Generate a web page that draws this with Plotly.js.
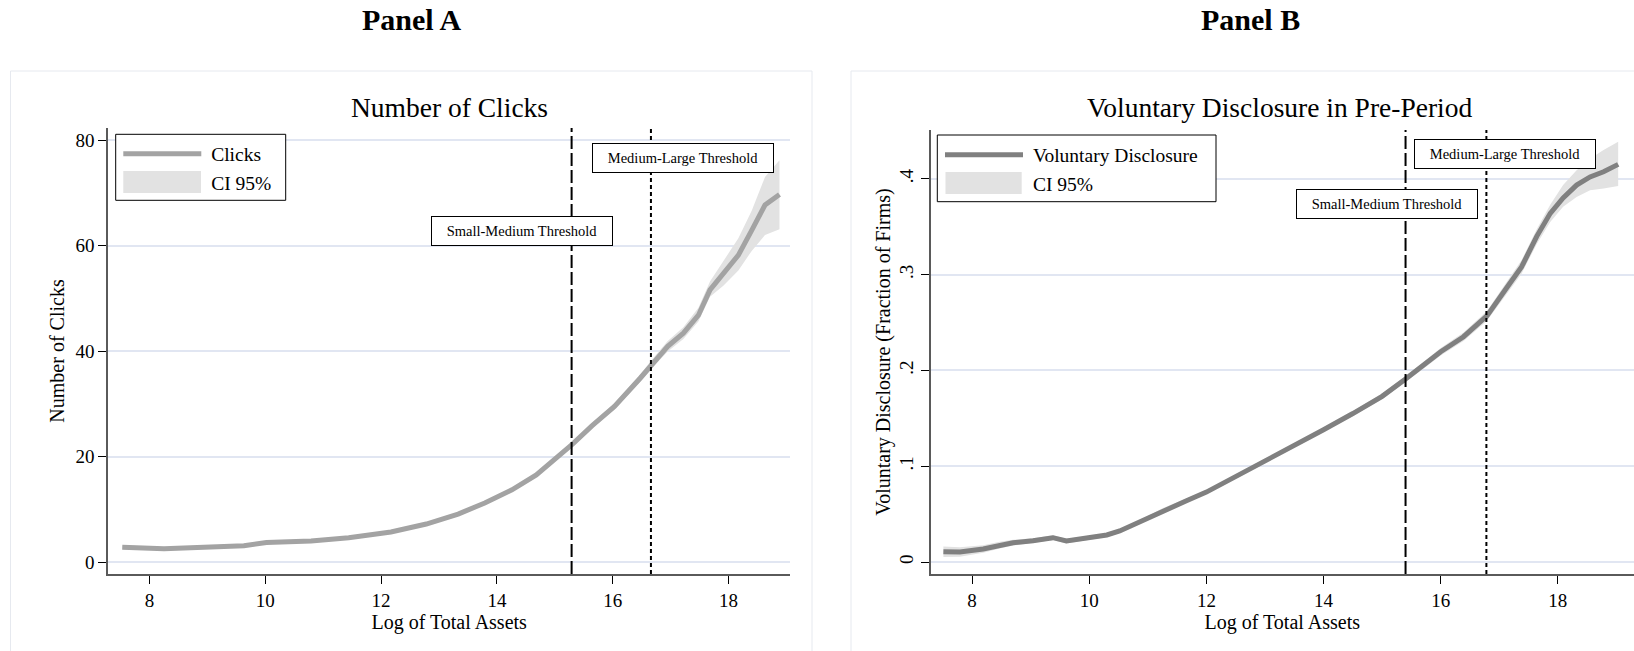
<!DOCTYPE html>
<html>
<head>
<meta charset="utf-8">
<script src="https://cdn.plot.ly/plotly-3.0.1.min.js"></script>
<style>html,body{margin:0;padding:0;background:#fff;}#chart{width:1634px;height:651px;}</style>
</head>
<body>
<div id="chart"></div>
<script>
// ---------- Data ----------
// Panel A: Number of Clicks vs Log of Total Assets
const assetsA = [7.53, 8.25, 8.94, 9.63, 10.02, 10.79, 11.44, 12.17, 12.78, 13.33, 13.79, 14.26, 14.68, 15.03, 15.31, 15.64, 16.03, 16.47, 16.68, 16.95, 17.22, 17.48, 17.68, 17.91, 18.17, 18.40, 18.63, 18.88];
const clicks  = [2.8, 2.5, 2.8, 3.1, 3.7, 4.0, 4.6, 5.7, 7.2, 9.1, 11.2, 13.7, 16.5, 19.7, 22.4, 25.8, 29.5, 34.8, 37.6, 40.9, 43.4, 46.8, 51.6, 54.7, 58.2, 62.9, 67.7, 69.7];
const clicksUpper = [3.2, 2.8, 3.1, 3.4, 4.0, 4.3, 4.9, 6.0, 7.5, 9.4, 11.5, 14.0, 16.8, 20.0, 22.8, 26.3, 30.1, 35.5, 38.4, 41.9, 44.5, 48.2, 53.2, 57.0, 61.4, 66.6, 73.0, 76.2];
const clicksLower = [2.4, 2.2, 2.5, 2.8, 3.4, 3.7, 4.3, 5.4, 6.9, 8.8, 10.9, 13.4, 16.2, 19.4, 22.0, 25.3, 28.9, 34.1, 36.8, 39.9, 42.3, 45.6, 50.3, 52.4, 55.3, 59.0, 62.0, 63.1];

// Panel B: Voluntary Disclosure (fraction of firms) vs Log of Total Assets
const assetsB = [7.51, 7.79, 8.19, 8.47, 8.70, 9.04, 9.38, 9.61, 9.96, 10.30, 10.52, 10.87, 11.26, 11.66, 12.0, 12.5, 13.0, 13.5, 14.0, 14.5, 15.0, 15.4, 15.7, 16.0, 16.39, 16.79, 17.10, 17.38, 17.64, 17.87, 18.09, 18.32, 18.55, 18.78, 19.03];
const disclosure = [0.0108, 0.0104, 0.0136, 0.0177, 0.0202, 0.0222, 0.0254, 0.0219, 0.0247, 0.0282, 0.0324, 0.0421, 0.0543, 0.064, 0.073, 0.089, 0.106, 0.122, 0.138, 0.155, 0.173, 0.191, 0.205, 0.2195, 0.2352, 0.257, 0.284, 0.308, 0.34, 0.364, 0.38, 0.3935, 0.402, 0.4074, 0.4151];
const disclosureUpper = [0.0163, 0.0154, 0.0176, 0.0212, 0.0232, 0.0247, 0.0279, 0.0244, 0.0267, 0.0302, 0.0344, 0.0441, 0.0563, 0.066, 0.075, 0.091, 0.108, 0.124, 0.140, 0.1575, 0.176, 0.194, 0.2085, 0.2235, 0.2397, 0.262, 0.290, 0.315, 0.3475, 0.373, 0.3935, 0.409, 0.421, 0.430, 0.4387];
const disclosureLower = [0.0053, 0.0054, 0.0096, 0.0142, 0.0172, 0.0197, 0.0229, 0.0194, 0.0227, 0.0262, 0.0304, 0.0401, 0.0523, 0.062, 0.071, 0.087, 0.104, 0.120, 0.136, 0.1525, 0.170, 0.188, 0.2015, 0.2155, 0.2307, 0.252, 0.278, 0.301, 0.332, 0.355, 0.371, 0.381, 0.388, 0.390, 0.3925];

// Thresholds (log of total assets), as drawn in each panel
const thresholdNames = ['Small-Medium Threshold', 'Medium-Large Threshold'];
const thresholdsA = [15.29, 16.66];
const thresholdsB = [15.4, 16.78];

// Tick labels
const xTicks = [8, 10, 12, 14, 16, 18];
const yTicksA = [0, 20, 40, 60, 80];
const yTicksB = [0, 0.1, 0.2, 0.3, 0.4];
const yTickTextB = ['0', '.1', '.2', '.3', '.4'];

// ---------- Styling ----------
const W = 1634, H = 651;
const FONT = 'Liberation Serif, Times New Roman, DejaVu Serif, serif';
const GRID = '#e1e6f2';
const AXIS = '#5a5a5a';
const CI_FILL = '#e2e2e2';
const NB = '\u00a0';
const px = v => v / W;          // horizontal pixel -> paper
const py = v => (H - v) / H;    // vertical pixel (from top) -> paper

function band(x, lo, hi) {
  return { x: x.concat(x.slice().reverse()), y: hi.concat(lo.slice().reverse()) };
}
const bandA = band(assetsA, clicksLower, clicksUpper);
const bandB = band(assetsB, disclosureLower, disclosureUpper);

const data = [
  // confidence bands (drawn first, below the lines)
  { x: bandA.x, y: bandA.y, type: 'scatter', mode: 'lines', fill: 'toself', fillcolor: CI_FILL,
    line: { width: 0, color: CI_FILL }, showlegend: false, xaxis: 'x', yaxis: 'y', hoverinfo: 'skip' },
  { x: bandB.x, y: bandB.y, type: 'scatter', mode: 'lines', fill: 'toself', fillcolor: CI_FILL,
    line: { width: 0, color: CI_FILL }, showlegend: false, xaxis: 'x2', yaxis: 'y2', hoverinfo: 'skip' },
  // fitted lines
  { x: assetsA, y: clicks, type: 'scatter', mode: 'lines', line: { color: '#a3a3a3', width: 5 },
    name: NB + 'Clicks', xaxis: 'x', yaxis: 'y', legend: 'legend', legendrank: 1 },
  { x: assetsB, y: disclosure, type: 'scatter', mode: 'lines', line: { color: '#808080', width: 5 },
    name: NB + 'Voluntary Disclosure', xaxis: 'x2', yaxis: 'y2', legend: 'legend2', legendrank: 1 },
  // legend entries for the confidence bands (key patch drawn as a shape)
  { x: [null], y: [null], type: 'scatter', mode: 'lines', line: { color: 'rgba(0,0,0,0)', width: 1 },
    name: NB + 'CI 95%', xaxis: 'x', yaxis: 'y', legend: 'legend', legendrank: 2, hoverinfo: 'skip' },
  { x: [null], y: [null], type: 'scatter', mode: 'lines', line: { color: 'rgba(0,0,0,0)', width: 1 },
    name: NB + 'CI 95%', xaxis: 'x2', yaxis: 'y2', legend: 'legend2', legendrank: 2, hoverinfo: 'skip' }
];

function xAxis(domain, range, anchor) {
  return {
    domain: domain, range: range, anchor: anchor,
    tickvals: xTicks, ticks: 'outside', ticklen: 8, tickwidth: 1, tickcolor: '#000',
    showline: true, linecolor: AXIS, linewidth: 2, showgrid: false, zeroline: false,
    tickfont: { family: FONT, size: 19, color: '#000' },
    title: { text: 'Log of Total Assets', font: { family: FONT, size: 20, color: '#000' }, standoff: 0 }
  };
}
function yAxis(domain, range, anchor, vals, text, angle, title, standoff) {
  const ax = {
    domain: domain, range: range, anchor: anchor,
    tickvals: vals, tickangle: angle,
    ticks: 'outside', ticklen: 8, tickwidth: 1, tickcolor: '#000',
    showline: true, linecolor: AXIS, linewidth: 2,
    showgrid: true, gridcolor: GRID, gridwidth: 2, zeroline: false,
    tickfont: { family: FONT, size: 19, color: '#000' },
    title: { text: title, font: { family: FONT, size: 20, color: '#000' }, standoff: standoff }
  };
  if (text) ax.ticktext = text;
  return ax;
}

const shapes = [
  // outer panel frames
  { type: 'rect', xref: 'paper', yref: 'paper', x0: px(10.5), x1: px(812), y0: -0.05, y1: py(71),
    line: { color: '#e6e9ef', width: 1 }, fillcolor: 'rgba(0,0,0,0)', layer: 'below' },
  { type: 'rect', xref: 'paper', yref: 'paper', x0: px(851), x1: 1.05, y0: -0.05, y1: py(71),
    line: { color: '#e6e9ef', width: 1 }, fillcolor: 'rgba(0,0,0,0)', layer: 'below' }
];
[['x', 'y domain', thresholdsA], ['x2', 'y2 domain', thresholdsB]].forEach(function (r) {
  shapes.push({ type: 'line', xref: r[0], yref: r[1], x0: r[2][0], x1: r[2][0], y0: 0, y1: 1,
    line: { color: '#000', width: 2, dash: '13px,4px' } });
  shapes.push({ type: 'line', xref: r[0], yref: r[1], x0: r[2][1], x1: r[2][1], y0: 0, y1: 1,
    line: { color: '#000', width: 2, dash: '4px,3px' } });
});
// legend frames and confidence-band key patches
[[115.7, 285.7, 134.3, 200.3, 123.3, 201, 171, 193],
 [937.3, 1216, 135, 201.7, 945.5, 1021.7, 172, 194]].forEach(function (b) {
  shapes.push({ type: 'rect', xref: 'paper', yref: 'paper', x0: px(b[0]), x1: px(b[1]), y0: py(b[3]), y1: py(b[2]),
    line: { color: '#000', width: 1 }, fillcolor: '#fff', layer: 'above' });
  shapes.push({ type: 'rect', xref: 'paper', yref: 'paper', x0: px(b[4]), x1: px(b[5]), y0: py(b[7]), y1: py(b[6]),
    line: { width: 0 }, fillcolor: CI_FILL, layer: 'above' });
});

function labelBox(text, x, y, xref, yref) {
  return { text: text, x: x, y: y, xref: xref, yref: yref, showarrow: false,
    font: { family: FONT, size: 14.5, color: '#000' }, bgcolor: '#fff', bordercolor: '#000', borderwidth: 1,
    borderpad: 5, width: 170, height: 18, xanchor: 'center', yanchor: 'middle' };
}

const annotations = [
  { text: '<b>Panel A</b>', xref: 'paper', yref: 'paper', x: px(411.6), y: py(19), showarrow: false,
    font: { family: FONT, size: 30, color: '#000' }, xanchor: 'center', yanchor: 'middle' },
  { text: '<b>Panel B</b>', xref: 'paper', yref: 'paper', x: px(1250), y: py(19), showarrow: false,
    font: { family: FONT, size: 30, color: '#000' }, xanchor: 'center', yanchor: 'middle' },
  { text: 'Number of Clicks', xref: 'paper', yref: 'paper', x: px(450), y: py(108), showarrow: false,
    font: { family: FONT, size: 27.5, color: '#000' }, xanchor: 'center', yanchor: 'middle' },
  { text: 'Voluntary Disclosure in Pre-Period', xref: 'paper', yref: 'paper', x: px(1279.6), y: py(108), showarrow: false,
    font: { family: FONT, size: 27.5, color: '#000' }, xanchor: 'center', yanchor: 'middle' },
  labelBox(thresholdNames[1], 17.22, 76.7, 'x', 'y'),
  labelBox(thresholdNames[0], 14.43, 62.8, 'x', 'y'),
  labelBox(thresholdNames[1], 17.09, 0.4264, 'x2', 'y2'),
  labelBox(thresholdNames[0], 15.08, 0.3737, 'x2', 'y2')
];

const legendStyle = {
  bgcolor: 'rgba(0,0,0,0)', borderwidth: 0,
  font: { family: FONT, size: 19.5, color: '#000' }, itemwidth: 78,
  xanchor: 'left', yanchor: 'top', traceorder: 'normal', tracegroupgap: 0
};

const layout = {
  width: W, height: H,
  margin: { l: 0, r: 0, t: 0, b: 0 },
  paper_bgcolor: '#fff', plot_bgcolor: '#fff',
  showlegend: true,
  legend: Object.assign({}, legendStyle, { x: px(118.3), y: py(134.5) }),
  legend2: Object.assign({}, legendStyle, { x: px(940), y: py(135.5) }),
  xaxis: xAxis([px(108.4), px(789.9)], [7.29, 19.06], 'y'),
  yaxis: yAxis([py(574), py(128)], [-2.27, 82.3], 'x', yTicksA, null, 0, 'Number of Clicks', 6),
  xaxis2: xAxis([px(930.5), 1], [7.29, 19.3], 'y2'),
  yaxis2: yAxis([py(574), py(130)], [-0.0125, 0.451], 'x2', yTicksB, yTickTextB, -90, 'Voluntary Disclosure (Fraction of Firms)', 0),
  shapes: shapes,
  annotations: annotations
};

Plotly.newPlot('chart', data, layout, { displayModeBar: false, staticPlot: true });
</script>
</body>
</html>
